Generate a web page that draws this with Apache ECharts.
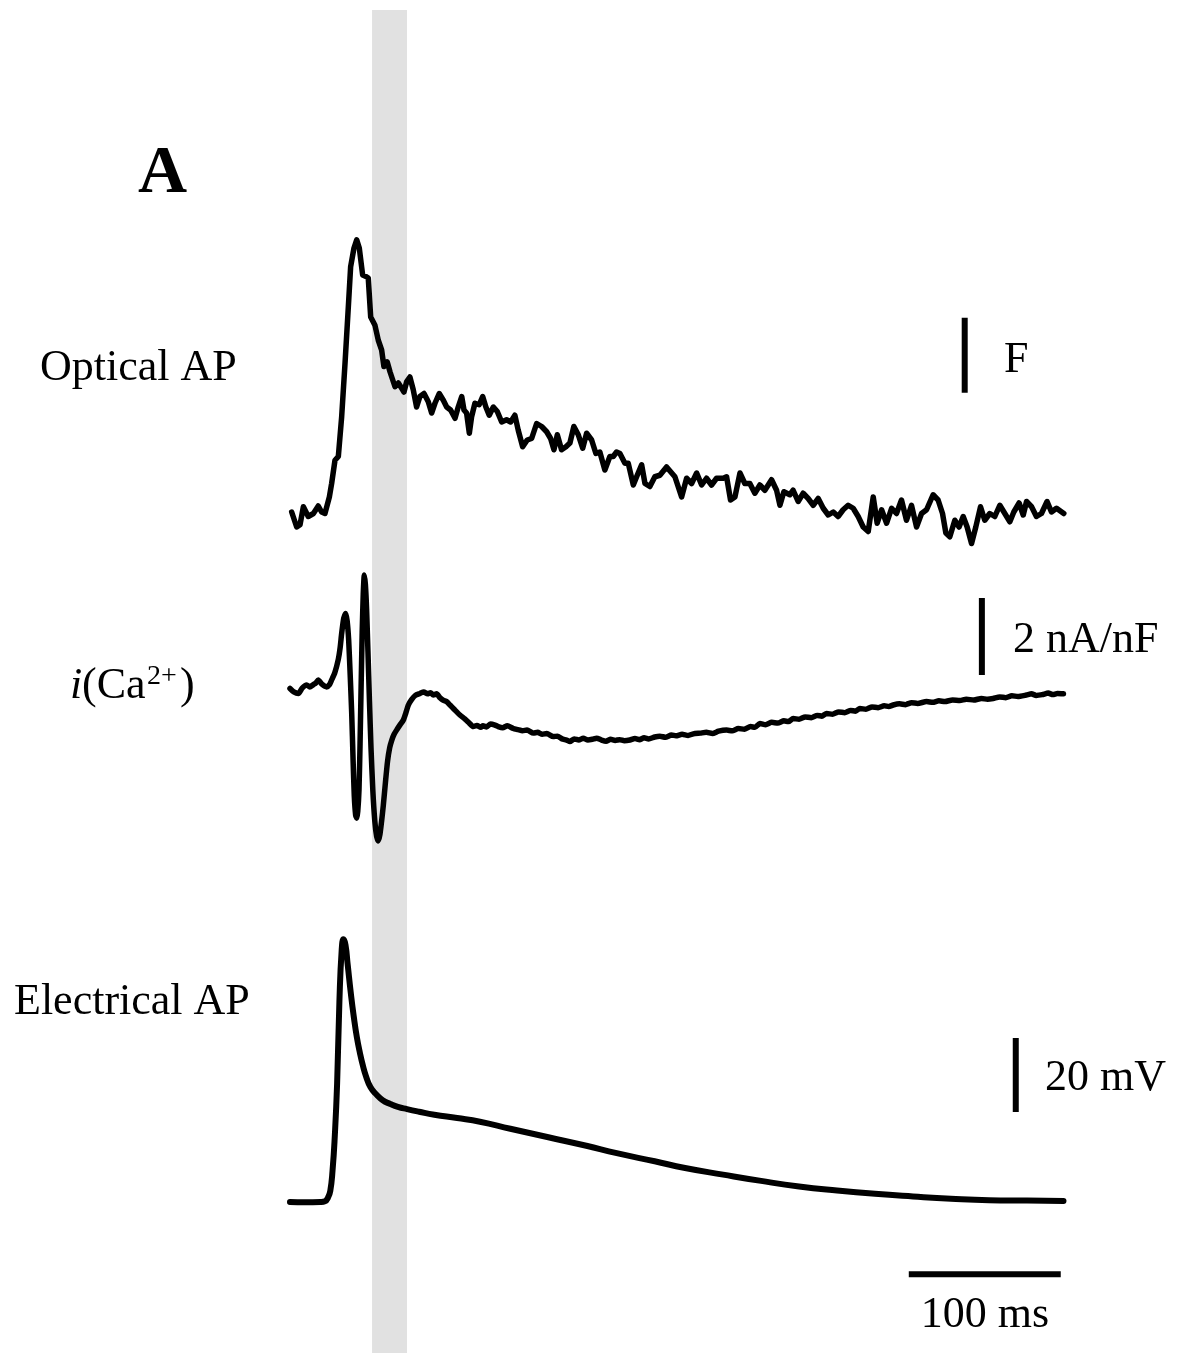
<!DOCTYPE html>
<html>
<head>
<meta charset="utf-8">
<script src="https://cdn.jsdelivr.net/npm/echarts@6/dist/echarts.min.js"></script>
<style>
html,body{margin:0;padding:0;background:#fff;}
#chart{width:1188px;height:1353px;}
</style>
</head>
<body>
<div id="chart"></div>
<script>
// ---- Data (time in ms) ----
// Optical AP (fluorescence, scale-bar units "F")
const optT = [1.1,4.4,6.6,8.8,12,15.4,18.6,20.8,23,25.9,27.4,29.6,31.8,34,36.2,38.4,39.9,42.1,43.9,45.6,47.8,50,51.5,53.1,55.9,58.1,60.3,61.8,64,65.8,69.1,71.3,73.5,75,76.8,78.9,81.1,83.3,85.5,88.2,91,93.2,95.4,98.2,100.9,103.1,105.7,108.6,110.7,113,114.5,116.2,118,119.5,121.7,124.5,126.8,128.9,131.1,133.8,136.4,139.3,142.5,145.2,148,150.2,153.1,156.1,159,162.3,165.6,168.9,171.5,173.7,175.9,178.7,181.6,184.2,186.8,189.7,192.6,195.2,198.5,201.3,203.9,207.2,210.5,212.7,214.9,217.1,220.4,222.6,225.9,228.1,231.4,233.6,236.8,240.1,243.4,247.8,253.3,257.7,261,264.3,267.6,270.9,274.1,277.4,280.7,285.1,287.3,289.9,292.8,296.1,299.3,302.6,305.9,309.2,312.5,316.9,320.2,322.4,325,328.9,331.1,334.4,337.7,341,344.3,347.6,350.9,354.2,357.5,360.7,364,367.3,370.6,373.9,377.2,380.5,383.8,386.4,389.3,392.6,395.9,399.1,402.4,405.7,409,412.3,415.6,418.9,423.2,426.5,429.4,431.6,434.2,437.5,440.3,443,445.6,448.5,451.3,454.4,457.2,460.5,463.8,467.1,470.4,473.7,476.3,479.8,482.5,484.7,488,491.2,494.5,498.2,501.1,504.4,509.2];
const optV = [0.04,-0.16,-0.13,0.11,-0.02,0.02,0.12,0.04,0.02,0.24,0.42,0.73,0.78,1.31,2.02,2.78,3.31,3.56,3.67,3.56,3.2,3.18,3.16,2.64,2.53,2.33,2.2,1.98,2.04,1.91,1.71,1.76,1.69,1.64,1.78,1.84,1.67,1.44,1.58,1.62,1.51,1.36,1.49,1.62,1.53,1.44,1.4,1.29,1.44,1.58,1.4,1.36,1.09,1.31,1.49,1.47,1.58,1.44,1.33,1.44,1.38,1.24,1.27,1.24,1.33,1.13,0.91,1.0,1.02,1.22,1.18,1.11,1.02,0.87,1.07,0.87,0.91,0.96,1.18,1.07,0.89,1.09,1.0,0.82,0.84,0.6,0.78,0.78,0.84,0.82,0.69,0.69,0.4,0.51,0.67,0.42,0.38,0.51,0.53,0.64,0.51,0.24,0.49,0.42,0.56,0.4,0.49,0.4,0.49,0.49,0.51,0.2,0.24,0.56,0.42,0.42,0.29,0.4,0.33,0.47,0.33,0.13,0.31,0.27,0.33,0.18,0.29,0.22,0.13,0.22,0.09,0.0,0.04,-0.02,0.07,0.13,0.09,-0.02,-0.16,-0.22,0.24,-0.11,0.07,-0.11,0.09,0.02,0.2,-0.07,0.13,-0.16,0.02,0.07,0.27,0.2,0.02,-0.24,-0.29,-0.07,-0.16,-0.02,-0.16,-0.38,-0.16,0.11,-0.07,0.02,-0.02,0.13,0.02,-0.09,0.04,0.16,0.0,0.18,0.11,-0.02,0.02,0.18,0.04,0.09,0.02];

// i(Ca2+) current (nA/nF)
const curT = [0,2.5,5.5,8,11,13,15.4,17,18.6,21,24.1,26,27.4,29.5,31.8,33,34,35.3,36.6,37.6,38.6,39.6,40.6,41.5,42.3,43.2,43.9,44.6,45.4,46.1,46.8,47.5,48.2,48.9,49.6,50.4,51.3,52.3,53.3,54.5,55.8,57,58.1,59.2,60.3,61.4,62.8,64.2,65.6,67,68.5,70.5,72.5,74.6,76.2,77.9,80,82.5,85.5,88,90.5,92.5,94.3,96.5,98.7,101,103,105.3,108,111.8,115,118,120.6,123,125.5,127,129.4,132,134.9,137,140,143,146.9,150,153,156,160.1,163,166,169,173.2,176,179,182,184.2,187,190,193,196,199,201.8,205,208,211,214,217,220,223.7,227,230,233,236,240,243.4,247,251,254,258,262,265.4,270,274,278,282,287.3,291,295,299,303,306,309.2,313,317,321,325,328,331.1,335,339,343,347,350,353.1,357,361,365,369,372,375,379,383,387,391,394,396.9,401,405,409,413,418.9,423,427,431,436,440.8,445,450,455,459,462.7,467,471,475,479,484.6,488,491,495,499,502,505,509];
const curV = [0.04,-0.05,-0.09,0.05,0.13,0.08,0.14,0.18,0.26,0.15,0.08,0.14,0.26,0.45,0.8,1.1,1.47,1.85,1.99,1.8,1.3,0.4,-0.6,-1.8,-2.75,-3.25,-3.33,-3.15,-2.6,-1.4,0.1,1.5,2.5,2.99,2.75,2.1,1.0,-0.3,-1.5,-2.6,-3.4,-3.8,-3.92,-3.75,-3.4,-3.0,-2.4,-1.85,-1.5,-1.3,-1.15,-1.02,-0.9,-0.78,-0.6,-0.39,-0.25,-0.14,-0.09,-0.05,-0.1,-0.07,-0.13,-0.1,-0.2,-0.27,-0.3,-0.39,-0.5,-0.65,-0.75,-0.86,-0.95,-0.92,-0.97,-0.93,-0.96,-0.88,-0.91,-0.95,-0.98,-0.93,-1.0,-1.03,-1.06,-1.04,-1.12,-1.1,-1.15,-1.13,-1.21,-1.2,-1.27,-1.3,-1.34,-1.27,-1.3,-1.25,-1.3,-1.28,-1.25,-1.3,-1.33,-1.28,-1.31,-1.29,-1.32,-1.3,-1.26,-1.29,-1.24,-1.27,-1.22,-1.2,-1.23,-1.17,-1.19,-1.15,-1.18,-1.14,-1.12,-1.1,-1.13,-1.07,-1.04,-1.06,-1.0,-1.02,-0.95,-0.97,-0.87,-0.9,-0.84,-0.86,-0.8,-0.82,-0.74,-0.76,-0.7,-0.72,-0.66,-0.68,-0.61,-0.63,-0.57,-0.59,-0.53,-0.55,-0.48,-0.5,-0.44,-0.46,-0.41,-0.43,-0.39,-0.36,-0.38,-0.33,-0.35,-0.3,-0.32,-0.28,-0.3,-0.26,-0.27,-0.24,-0.26,-0.22,-0.24,-0.22,-0.18,-0.2,-0.15,-0.17,-0.13,-0.1,-0.14,-0.12,-0.08,-0.12,-0.09,-0.1];

// Electrical AP (mV)
const elecT = [0,10,20,23,25,26.5,28,29.5,31,32.5,34,35.2,36.5,38,40,42,44,46,48,50,53,57,61,66,71,77,85,95,110,125,145,170,195,215,240,260,285,310,335,360,385,410,435,460,485,509];
const elecV = [-80,-80.1,-80,-79.8,-78.8,-77,-71.5,-62,-48,-26,-12,-9,-10.5,-16,-23.5,-30,-35.5,-39.7,-43.2,-46,-49,-51,-52.5,-53.5,-54.3,-54.9,-55.6,-56.4,-57.3,-58.3,-60.2,-62.5,-64.8,-66.8,-69,-70.8,-72.6,-74.3,-75.8,-76.9,-77.8,-78.5,-79.1,-79.5,-79.6,-79.7];

// Highlighted window (ms)
const bandRange = [54, 77];

// Scale bars: [t, value] endpoints
const barF = [[444, 1.63], [444, 2.63]];          // F
const barCur = [[455.3, 0.39], [455.3, 2.39]];     // 2 nA/nF
const barMV = [[477.6, -55.7], [477.6, -35.7]];    // 20 mV
const barTime = [[407.2, -99.5], [507.2, -99.5]];  // 100 ms

const zip = (a, b) => a.map((t, i) => [t, b[i]]);

const chart = echarts.init(document.getElementById('chart'), null, {renderer: 'canvas'});
const serif = '"Liberation Serif", "Times New Roman", serif';
const gridX = {left: 290, width: 775};
const xAx = (i) => ({type: 'value', gridIndex: i, min: 0, max: 510, show: false});

const traceStyle = {color: '#000', width: 5.5, join: 'round', cap: 'round'};
const barStyle = {color: '#000', width: 6, cap: 'butt'};

function barSeries(data, idx) {
  return {type: 'line', xAxisIndex: idx, yAxisIndex: idx, data: data, showSymbol: false,
    lineStyle: barStyle, silent: true, z: 3, animation: false};
}

chart.setOption({
  animation: false,
  backgroundColor: '#fff',
  grid: [
    Object.assign({top: 10, height: 1343}, gridX),
    Object.assign({top: 215, height: 337.5}, gridX),
    Object.assign({top: 536, height: 346.5}, gridX),
    Object.assign({top: 906, height: 388.5}, gridX)
  ],
  xAxis: [xAx(0), xAx(1), xAx(2), xAx(3)],
  yAxis: [
    {type: 'value', gridIndex: 0, min: 0, max: 1, show: false},
    {type: 'value', gridIndex: 1, min: -0.5, max: 4, show: false},
    {type: 'value', gridIndex: 2, min: -5, max: 4, show: false},
    {type: 'value', gridIndex: 3, min: -105, max: 0, show: false}
  ],
  series: [
    {type: 'line', xAxisIndex: 0, yAxisIndex: 0, data: [], z: 0, silent: true,
      markArea: {silent: true, itemStyle: {color: '#e1e1e1'},
        data: [[{xAxis: bandRange[0]}, {xAxis: bandRange[1]}]]}},
    {type: 'line', name: 'Optical AP', xAxisIndex: 1, yAxisIndex: 1, data: zip(optT, optV),
      showSymbol: false, lineStyle: traceStyle, z: 2},
    {type: 'line', name: 'i(Ca2+)', xAxisIndex: 2, yAxisIndex: 2, data: zip(curT, curV),
      showSymbol: false, smooth: 0.2, lineStyle: traceStyle, z: 2},
    {type: 'line', name: 'Electrical AP', xAxisIndex: 3, yAxisIndex: 3, data: zip(elecT, elecV),
      showSymbol: false, smooth: 0.5, lineStyle: Object.assign({}, traceStyle, {width: 6}), z: 2},
    barSeries(barF, 1),
    barSeries(barCur, 2),
    barSeries(barMV, 3),
    barSeries(barTime, 3)
  ],
  graphic: [
    {type: 'text', left: 138, top: 140, style: {text: 'A', font: 'bold 68px ' + serif, fill: '#000'}},
    {type: 'text', x: 40, y: 368, style: {text: 'Optical AP', font: '44px ' + serif, fill: '#000', verticalAlign: 'middle'}},
    {type: 'text', x: 70, y: 686, style: {text: 'i', font: 'italic 44px ' + serif, fill: '#000', verticalAlign: 'middle'}},
    {type: 'text', x: 82, y: 686, style: {text: '(Ca', font: '44px ' + serif, fill: '#000', verticalAlign: 'middle'}},
    {type: 'text', x: 147, y: 677, style: {text: '2+', font: '28px ' + serif, fill: '#000', verticalAlign: 'middle'}},
    {type: 'text', x: 180, y: 686, style: {text: ')', font: '44px ' + serif, fill: '#000', verticalAlign: 'middle'}},
    {type: 'text', x: 14, y: 1002, style: {text: 'Electrical AP', font: '44px ' + serif, fill: '#000', verticalAlign: 'middle'}},
    {type: 'text', x: 1004, y: 360, style: {text: 'F', font: '44px ' + serif, fill: '#000', verticalAlign: 'middle'}},
    {type: 'text', x: 1013, y: 640, style: {text: '2 nA/nF', font: '44px ' + serif, fill: '#000', verticalAlign: 'middle'}},
    {type: 'text', x: 1045, y: 1078, style: {text: '20 mV', font: '44px ' + serif, fill: '#000', verticalAlign: 'middle'}},
    {type: 'text', x: 985, y: 1315, style: {text: '100 ms', font: '44px ' + serif, fill: '#000', align: 'center', verticalAlign: 'middle'}}
  ]
});
</script>
</body>
</html>
